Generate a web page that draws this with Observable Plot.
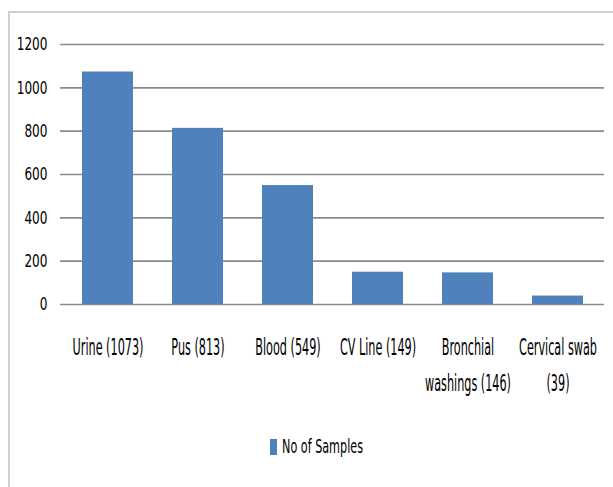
<!DOCTYPE html>
<html><head><meta charset="utf-8">
<script src="https://cdn.jsdelivr.net/npm/d3@7"></script>
<script src="https://cdn.jsdelivr.net/npm/@observablehq/plot@0.6"></script>
<style>
body{margin:0;background:#fff;font-family:"Liberation Sans Narrow","DejaVu Sans Condensed",sans-serif;}
#wrap{position:relative;width:613px;height:487px;overflow:hidden;background:#fff;}
#frame{position:absolute;left:8px;top:11px;width:700px;height:600px;border-left:2px solid #cfcfcf;border-top:2px solid #cfcfcf;pointer-events:none;}
#chart{position:absolute;left:0;top:0;}
#legend{position:absolute;top:438px;left:270px;display:flex;align-items:center;font-size:15px;color:#000;}
#legend .sw{width:7px;height:16px;margin-right:5px;}
#legend .lb{display:inline-block;transform-origin:left center;transform:scale(0.83,1.25);white-space:nowrap;}
</style></head><body>
<div id="wrap"><div id="frame"></div><div id="chart"></div><div id="legend"></div></div>
<script>
const categories = ["Urine (1073)", "Pus (813)", "Blood (549)", "CV Line (149)", "Bronchial washings (146)", "Cervical swab (39)"];
const tickLabels = ["Urine (1073)", "Pus (813)", "Blood (549)", "CV Line (149)", "Bronchial\nwashings (146)", "Cervical swab\n(39)"];
const values = [1073, 813, 549, 149, 146, 39];
const yTicks = [0, 200, 400, 600, 800, 1000, 1200];
const seriesName = "No of Samples";
const barColor = "#4F81BD";

const data = categories.map((c, i) => ({category: c, value: values[i]}));

const chart = Plot.plot({
  width: 613,
  height: 420,
  marginLeft: 60,
  marginRight: 9,
  marginTop: 44,
  marginBottom: 116,
  style: {fontFamily: '"Liberation Sans Narrow","DejaVu Sans Condensed",sans-serif', fontSize: "16px", color: "#000", background: "transparent"},
  x: {type: "band", domain: categories, paddingInner: 0.4375, paddingOuter: 0.21875, label: null},
  y: {domain: [0, 1200], label: null},
  marks: [
    Plot.ruleY(yTicks, {stroke: "#8a8a8a", strokeWidth: 1.6}),
    Plot.barY(data, {x: "category", y: "value", fill: barColor}),
    Plot.axisY({ticks: yTicks, tickSize: 0, tickPadding: 13, label: null, tickFormat: d => String(d)}),
    Plot.axisX({tickSize: 0, tickPadding: 25, label: null, lineHeight: 1.6, tickFormat: d => tickLabels[categories.indexOf(d)]})
  ]
});
document.getElementById("chart").appendChild(chart);

function stretch(sel, sx, sy) {
  chart.querySelectorAll(sel).forEach(t => {
    const tr = t.getAttribute("transform") || "";
    t.setAttribute("transform", tr + ` scale(${sx},${sy})`);
  });
}
stretch('g[aria-label="y-axis tick label"] text', 0.84, 1.15);
stretch('g[aria-label="x-axis tick label"] text', 0.78, 1.4);

const legend = document.getElementById("legend");
legend.innerHTML = `<div class="sw" style="background:${barColor}"></div><span class="lb">${seriesName}</span>`;
</script>
</body></html>
